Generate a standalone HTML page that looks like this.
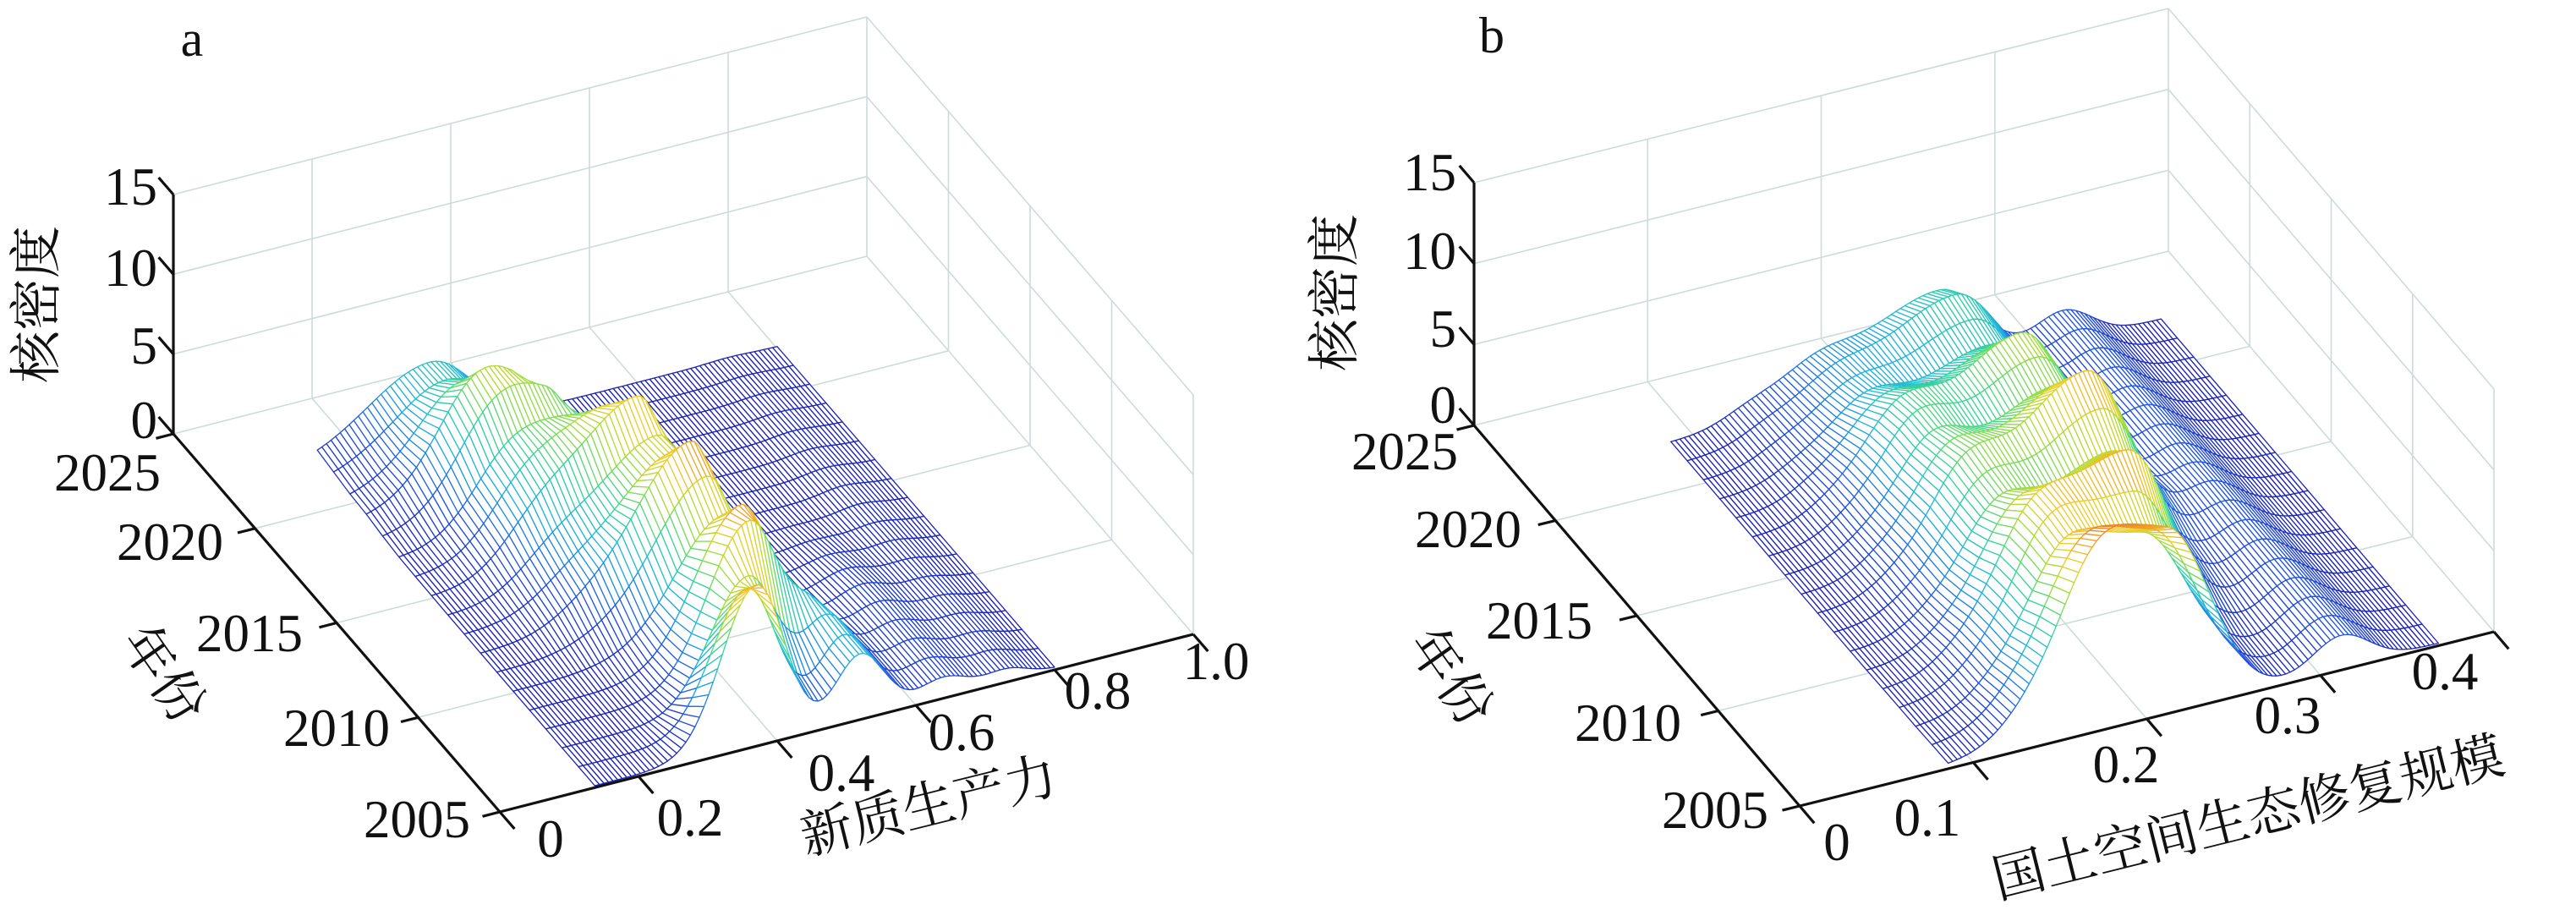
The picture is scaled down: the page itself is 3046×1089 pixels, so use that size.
<!DOCTYPE html>
<html><head><meta charset="utf-8"><style>
html,body{margin:0;padding:0;background:#fff;}
svg{display:block}
text{font-family:"Liberation Serif","Noto Serif CJK SC",serif;fill:#111;}
.cjk{font-family:"Liberation Serif","Noto Serif CJK SC","Noto Sans CJK SC",serif;}
</style></head><body>
<svg id="s" width="3046" height="1089" viewBox="0 0 3046 1089" xmlns="http://www.w3.org/2000/svg">
<g id="g"></g>
<text x="227" y="66" font-size="60" text-anchor="middle">a</text>
<text x="1764" y="62" font-size="60" text-anchor="middle">b</text>
<g font-size="63" text-anchor="end">
<text x="186" y="242">15</text><text x="186" y="338">10</text><text x="186" y="430">5</text><text x="186" y="518">0</text>
<text x="190" y="580">2025</text><text x="264" y="662">2020</text><text x="358" y="770">2015</text><text x="461" y="882">2010</text><text x="556" y="990">2005</text>
<text x="1722" y="225">15</text><text x="1722" y="318">10</text><text x="1722" y="410">5</text><text x="1722" y="500">0</text>
<text x="1724" y="555">2025</text><text x="1799" y="647">2020</text><text x="1883" y="755">2015</text><text x="1988" y="876">2010</text><text x="2091" y="979">2005</text>
</g>
<g font-size="63" text-anchor="middle">
<text x="651" y="1013">0</text><text x="816" y="988">0.2</text><text x="995" y="935">0.4</text><text x="1137" y="887">0.6</text><text x="1298" y="838">0.8</text><text x="1438" y="803">1.0</text>
<text x="2172" y="1017">0</text><text x="2279" y="988">0.1</text><text x="2514" y="925">0.2</text><text x="2705" y="867">0.3</text><text x="2891" y="815">0.4</text>
</g>
<g font-size="62" text-anchor="middle" class="cjk">
<text transform="translate(64,360) rotate(-90)">核密度</text>
<text transform="translate(1599,346) rotate(-90)">核密度</text>
<text transform="translate(194,797) rotate(55)" dy="22">年份</text>
<text transform="translate(1716,800) rotate(55)" dy="22">年份</text>
<text transform="translate(1098,952) rotate(-14)" dy="22">新质生产力</text>
<text transform="translate(2658,966) rotate(-14)" dy="22">国土空间生态修复规模</text>
</g>
</svg>
<script>
(function(){
var out=[];
function G(u,c,s){return Math.exp(-Math.pow((u-c)/s,2)/2);}
function AG(u,c,sl,sr){return G(u,c,u<c?sl:sr);}
function sm(a,b,v){v=Math.max(0,Math.min(1,(v-a)/(b-a)));return v*v*(3-2*v);}
var stops=[[0,[28,28,178]],[0.18,[35,85,228]],[0.38,[30,180,225]],[0.55,[55,215,150]],[0.7,[165,222,55]],[0.83,[242,205,40]],[1,[236,125,40]]];
function cmap(v){v=Math.max(0,Math.min(1,v));for(var i=1;i<stops.length;i++){if(v<=stops[i][0]){var a=stops[i-1],b=stops[i],f=(v-a[0])/(b[0]-a[0]);return 'rgb('+[0,1,2].map(function(k){return Math.round(a[1][k]+(b[1][k]-a[1][k])*f)}).join(',')+')';}}return 'rgb(236,125,40)';}
function panel(O,Ex,Ey,Ez,xt,yt,f,x0,x1,nx,t1,ny,zmax){
 function P(x,t,z){return [O[0]+x*Ex[0]+t*Ey[0]+z/15*Ez[0],O[1]+x*Ex[1]+t*Ey[1]+z/15*Ez[1]];}
 function L(a,b,c,w){out.push('<line x1="'+a[0].toFixed(1)+'" y1="'+a[1].toFixed(1)+'" x2="'+b[0].toFixed(1)+'" y2="'+b[1].toFixed(1)+'" stroke="'+c+'" stroke-width="'+w+'"/>');}
 var gc='#cfdada',gw=1.6;
 xt.forEach(function(x){L(P(x,1,0),P(x,1,15),gc,gw);L(P(x,0,0),P(x,1,0),gc,gw);});
 L(P(1,1,0),P(1,1,15),gc,gw);
 [5,10,15].forEach(function(z){L(P(0,1,z),P(1,1,z),gc,gw);L(P(1,1,z),P(1,0,z),gc,gw);});
 yt.forEach(function(t){L(P(1,t,0),P(1,t,15),gc,gw);L(P(0,t,0),P(1,t,0),gc,gw);});
 L(P(1,0,0),P(1,0,15),gc,gw);
 L(P(0,1,0),P(1,1,0),gc,gw);L(P(1,1,0),P(1,0,0),gc,gw);
 var Z=[],X=[],T=[];
 for(var j=0;j<ny;j++){T.push(t1*j/(ny-1));}
 for(var i=0;i<nx;i++){X.push(x0+(x1-x0)*i/(nx-1));}
 for(var j=0;j<ny;j++){Z.push([]);for(var i=0;i<nx;i++)Z[j].push(f(X[i],T[j]));}
 var q=[];
 for(var j=0;j<ny-1;j++)for(var i=0;i<nx-1;i++){
  var d=-Ex[1]*(X[i]+X[i+1])/2-Ey[1]*(T[j]+T[j+1])/2;
  q.push([d,i,j]);}
 q.sort(function(a,b){return b[0]-a[0];});
 q.forEach(function(e){var i=e[1],j=e[2];
  var p=[P(X[i],T[j],Z[j][i]),P(X[i+1],T[j],Z[j][i+1]),P(X[i+1],T[j+1],Z[j+1][i+1]),P(X[i],T[j+1],Z[j+1][i])];
  var zm=(Z[j][i]+Z[j][i+1]+Z[j+1][i+1]+Z[j+1][i])/4;
  out.push('<polygon points="'+p.map(function(a){return a[0].toFixed(1)+','+a[1].toFixed(1)}).join(' ')+'" fill="#fff" stroke="'+cmap(zm/zmax)+'" stroke-width="1.3" stroke-linejoin="round"/>');});
 var k='#111',w=3.2;
 L(P(0,1,0),P(0,1,15),k,w);L(P(0,0,0),P(0,1,0),k,w);L(P(0,0,0),P(1,0,0),k,w);
 var tl=0.045;
 [0,5,10,15].forEach(function(z){L(P(0,1,z),P(0,1+tl,z),k,w);});
 [0,0.25,0.5,0.75,1].forEach(function(t){L(P(0,t,0),P(-0.025,t,0),k,w);});
 [0].concat(xt).concat([1]).forEach(function(x){L(P(x,0,0),P(x,-tl,0),k,w);});
}
function fa(x,t){
 var c=0.37+0.07*sm(0,0.2,t)-0.14*sm(0.45,0.85,t);
 var A=(10-5.4*sm(0.4,0.85,t))*(0.88+0.12*Math.cos(2*Math.PI*t/0.17));
 var sl=0.05+0.04*sm(0,0.5,t), sr=0.04+0.02*sm(0.5,0.85,t);
 return 0.12+A*AG(x,c,sl,sr)+4.0*G(x,0.52,0.035)*(1-sm(0.1,0.3,t))+1.2*G(x,0.64,0.035)*(1-sm(0.2,0.5,t))+0.7*G(x,0.73,0.03)*(1-t)+2.5*G(x,0.29,0.05)*sm(0.2,0.6,t)*(1-sm(0.7,0.85,t));
}
function fb(x,t){
 var c=0.53+0.07*sm(0,0.4,t);
 var A=(11-5*sm(0.35,0.85,t))*(0.88+0.12*Math.cos(2*Math.PI*t/0.2));
 return 0.15+A*AG(x,c,0.11,0.06)+4.5*G(x,0.42,0.05)*(1-0.6*sm(0.5,0.85,t))+2.0*G(x,0.78,0.04)+0.8*G(x,0.33,0.04);
}
panel([591,960],[820,-210],[-386,-447],[0,-283],[0.2,0.4,0.6,0.8],[0.25,0.5,0.75],fa,0.137,0.80,102,0.85,18,10.5);
panel([2128,953],[821,-206],[-385,-450],[0,-287],[0.25,0.5,0.75],[0.25,0.5,0.75],fb,0.214,0.92,110,0.852,18,12);
document.getElementById('g').innerHTML=out.join('');
})();
</script>
</body></html>
